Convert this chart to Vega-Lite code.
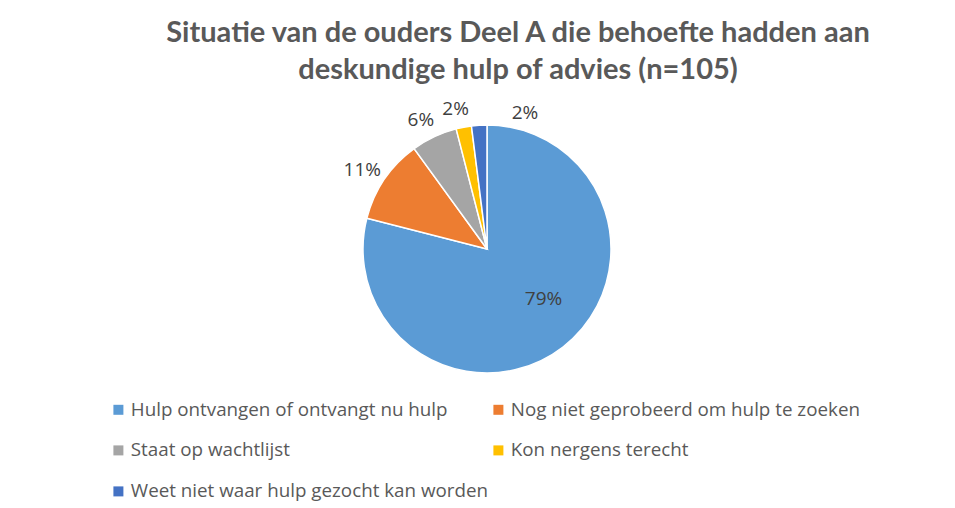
{
  "$schema": "https://vega.github.io/schema/vega-lite/v6.json",
  "autosize": {"type": "none"},
  "width": 1014,
  "height": 520,
  "padding": {"left": 11, "top": 10, "right": 0, "bottom": 0},
  "background": "white",
  "config": {"view": {"stroke": "#d9d9d9", "strokeWidth": 1.5}},
  "title": {
    "text": ["Situatie van de ouders Deel A die behoefte hadden aan", "deskundige hulp of advies (n=105)"],
    "orient": "top",
    "anchor": "middle",
    "frame": "group",
    "offset": -75,
    "fontSize": 29,
    "font": "Lato",
    "fontWeight": "bold",
    "color": "#595959",
    "lineHeight": 37
  },
  "data": {
    "values": [
      {"categorie": "Hulp ontvangen of ontvangt nu hulp", "aandeel": 0.79, "volgorde": 1},
      {"categorie": "Nog niet geprobeerd om hulp te zoeken", "aandeel": 0.11, "volgorde": 2},
      {"categorie": "Staat op wachtlijst", "aandeel": 0.06, "volgorde": 3},
      {"categorie": "Kon nergens terecht", "aandeel": 0.02, "volgorde": 4},
      {"categorie": "Weet niet waar hulp gezocht kan worden", "aandeel": 0.02, "volgorde": 5}
    ]
  },
  "encoding": {
    "theta": {"field": "aandeel", "type": "quantitative", "stack": true},
    "order": {"field": "volgorde", "type": "quantitative", "sort": "ascending"}
  },
  "layer": [
    {
      "mark": {"type": "arc", "outerRadius": 124, "stroke": "white", "strokeWidth": 1.5, "x": 476, "y": 239},
      "encoding": {
        "color": {
          "field": "categorie",
          "type": "nominal",
          "scale": {
            "domain": ["Hulp ontvangen of ontvangt nu hulp", "Nog niet geprobeerd om hulp te zoeken", "Staat op wachtlijst", "Kon nergens terecht", "Weet niet waar hulp gezocht kan worden"],
            "range": ["#5B9BD5", "#ED7D31", "#A5A5A5", "#FFC000", "#4472C4"]
          },
          "legend": {
            "title": null,
            "orient": "none",
            "legendX": 98,
            "legendY": 390,
            "direction": "horizontal",
            "columns": 2,
            "symbolType": "square",
            "symbolSize": 100,
            "symbolStrokeWidth": 0,
            "labelFont": "Open Sans",
            "labelFontSize": 18.8,
            "labelColor": "#595959",
            "labelLimit": 500,
            "labelOffset": 3,
            "rowPadding": 21,
            "columnPadding": 0
          }
        }
      }
    },
    {
      "mark": {"type": "text", "radius": 76, "font": "Open Sans", "fontSize": 19, "color": "#404040", "x": 476, "y": 239, "dx": 10, "dy": -10},
      "encoding": {
        "text": {"field": "aandeel", "type": "quantitative", "format": ".0%"},
        "opacity": {"condition": {"test": "datum.volgorde == 1", "value": 1}, "value": 0}
      }
    },
    {
      "mark": {"type": "text", "radius": 146, "font": "Open Sans", "fontSize": 19, "color": "#404040", "x": 476, "y": 239, "dx": -4, "dy": 3},
      "encoding": {
        "text": {"field": "aandeel", "type": "quantitative", "format": ".0%"},
        "opacity": {"condition": {"test": "datum.volgorde > 1 && datum.volgorde < 5", "value": 1}, "value": 0}
      }
    },
    {
      "mark": {"type": "text", "radius": 143, "font": "Open Sans", "fontSize": 19, "color": "#404040", "x": 476, "y": 239, "dx": 47, "dy": 7},
      "encoding": {
        "text": {"field": "aandeel", "type": "quantitative", "format": ".0%"},
        "opacity": {"condition": {"test": "datum.volgorde == 5", "value": 1}, "value": 0}
      }
    }
  ]
}
